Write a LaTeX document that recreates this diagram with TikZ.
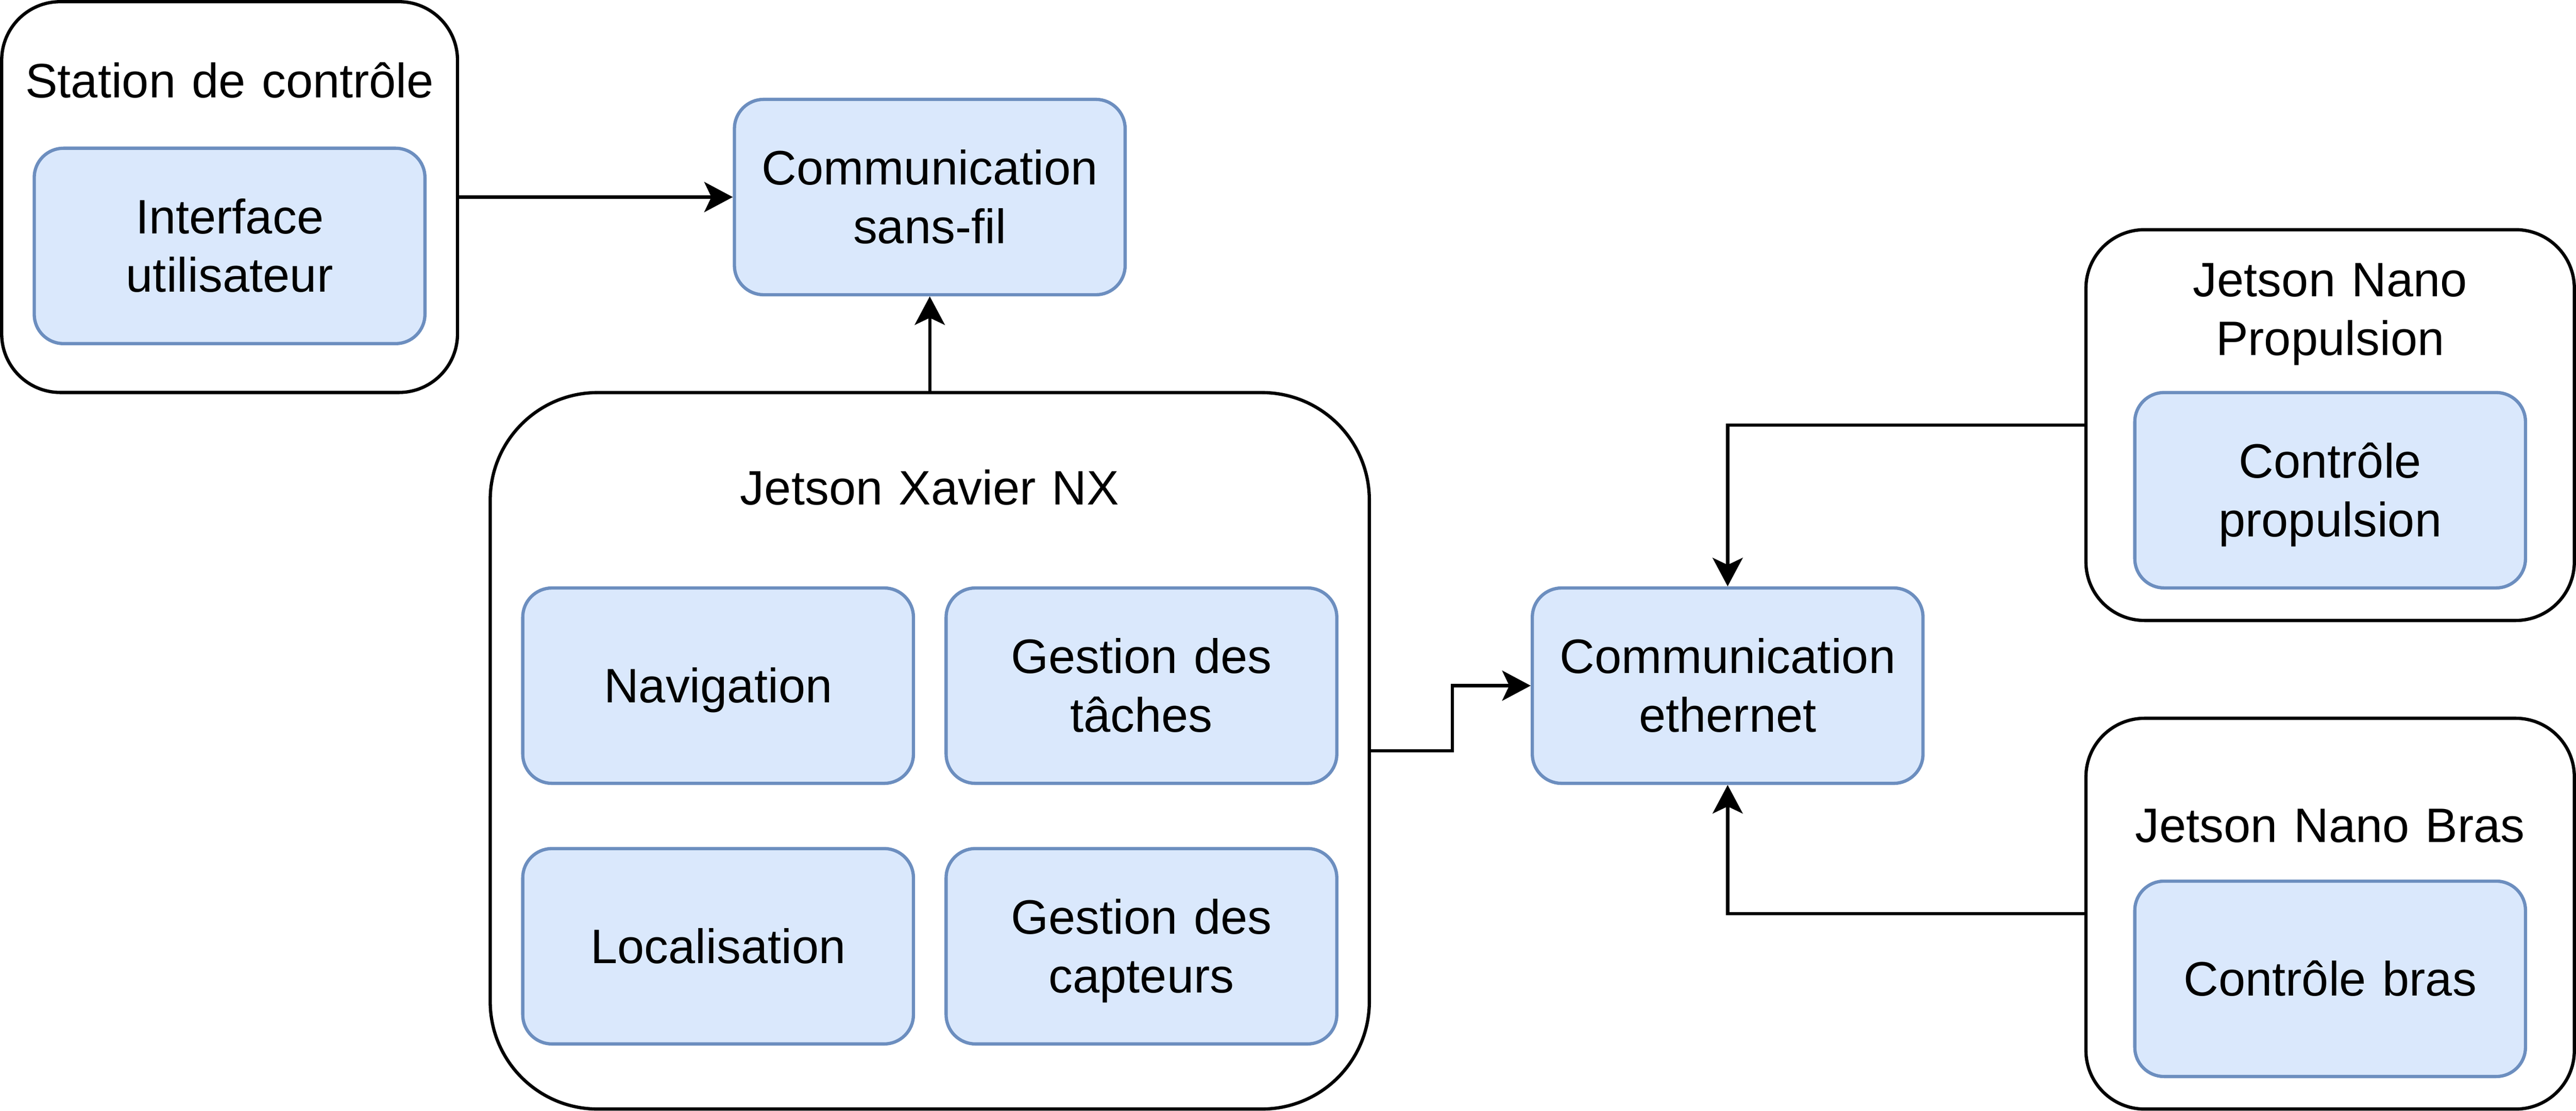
\documentclass[tikz,border=0pt]{standalone}
\usepackage{fontspec}
\setmainfont{Liberation Sans}
\usetikzlibrary{arrows.meta}
\definecolor{bleuclair}{HTML}{DAE8FC}
\definecolor{bleubord}{HTML}{6C8EBF}
\newcommand{\etai}{\rule[-0.152cm]{0pt}{0.72cm}}
\begin{document}
\begin{tikzpicture}[x=0.02cm, y=-0.02cm]
	\tikzset{texte/.style={font=\fontsize{16.9pt}{20.49pt}\selectfont, align=center, inner sep=0pt, text width=5.4cm, execute at begin node=\etai, execute at end node=\etai},
		boite/.style={texte, text width=4.6cm, draw=bleubord, fill=bleuclair, line width=0.04cm, rounded corners=0.36cm, minimum width=4.8cm, minimum height=2.4cm},
		cadre/.style={draw=black, fill=white, line width=0.04cm},
		fleche/.style={>={Stealth[length=0.35cm, width=0.37cm, inset=0.087cm]}, ->, line width=0.04cm}};
	\useasboundingbox (0,0) rectangle (1582,682);

	\node[cadre, minimum width=5.6cm, minimum height=4.8cm, rounded corners=0.72cm] (station) at (141,121) {};
	\node[texte] (titreStation) at (141,49.6) {Station de contrôle};
	\node[boite] (interface) at (141,151) {Interface\\utilisateur};

	\node[boite] (sansfil) at (571,121) {Communication\\sans-fil};

	\node[cadre, minimum width=10.8cm, minimum height=8.8cm, rounded corners=1.32cm] (xavier) at (571,461) {};
	\node[texte] (titreXavier) at (571,299.6) {Jetson Xavier NX};
	\node[boite] (navigation) at (441,421) {Navigation};
	\node[boite] (taches) at (701,421) {Gestion des\\tâches};
	\node[boite] (localisation) at (441,581) {Localisation};
	\node[boite] (capteurs) at (701,581) {Gestion des\\capteurs};

	\node[boite] (ethernet) at (1061,421) {Communication\\ethernet};

	\node[cadre, minimum width=6cm, minimum height=4.8cm, rounded corners=0.72cm] (propulsion) at (1431,261) {};
	\node[texte] (titrePropulsion) at (1431,189.8) {Jetson Nano\\Propulsion};
	\node[boite] (ctrlPropulsion) at (1431,301) {Contrôle\\propulsion};

	\node[cadre, minimum width=6cm, minimum height=4.8cm, rounded corners=0.72cm] (bras) at (1431,561) {};
	\node[texte] (titreBras) at (1431,506.6) {Jetson Nano Bras};
	\node[boite] (ctrlBras) at (1431,601) {Contrôle bras};

	\draw[fleche] (station.east) -- (sansfil.west);
	\draw[fleche] (xavier.north) -- (sansfil.south);
	\draw[fleche] (xavier.east) -- ++(50,0) |- (ethernet.west);
	\draw[fleche] (propulsion.west) -| (ethernet.north);
	\draw[fleche] (bras.west) -| (ethernet.south);
\end{tikzpicture}
\end{document}
